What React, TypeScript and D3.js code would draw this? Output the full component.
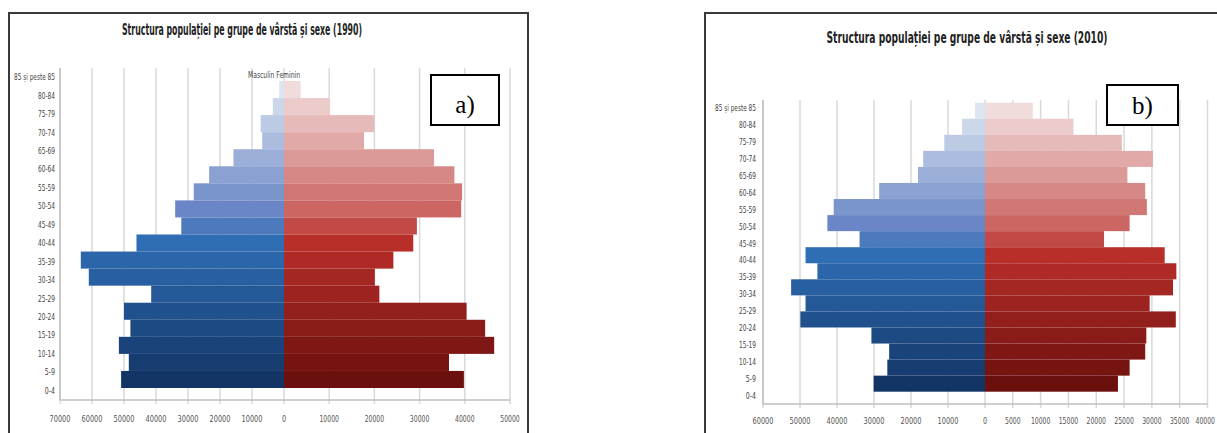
import * as d3 from "d3";

// age groups, top to bottom as in the pyramid
const ageGroups = [
  "85 și peste 85", "80-84", "75-79", "70-74", "65-69", "60-64", "55-59", "50-54", "45-49",
  "40-44", "35-39", "30-34", "25-29", "20-24", "15-19", "10-14", "5-9", "0-4",
];

const male1990 = [1500, 3500, 7300, 6800, 15800, 23400, 28200, 34000, 32100, 46100, 63500, 61000, 41500, 50000, 48000, 51600, 48500, 50900];
const female1990 = [3700, 10200, 20000, 17700, 33200, 37700, 39400, 39200, 29400, 28600, 24200, 20100, 21100, 40400, 44500, 46500, 36500, 39800];

const male2010 = [2700, 6200, 11000, 16700, 18100, 28600, 40900, 42600, 33900, 48500, 45300, 52400, 48500, 49900, 30700, 25900, 26400, 30100];
const female2010 = [8600, 15900, 24600, 30200, 25600, 28800, 29100, 26000, 21400, 32300, 34400, 33800, 29600, 34300, 29000, 28800, 26000, 23900];

const maleTicks1990 = [70000, 60000, 50000, 40000, 30000, 20000, 10000, 0];
const femaleTicks1990 = [10000, 20000, 30000, 40000, 50000];
const maleTicks2010 = [60000, 50000, 40000, 30000, 20000, 10000, 0];
const femaleTicks2010 = [5000, 10000, 15000, 20000, 25000, 30000, 35000, 40000];

const maleColor = d3.scaleLinear<string>().domain([0, 7, 9, 17]).range(["#dde5f0", "#6a86c6", "#2f6db4", "#123566"]);
const femaleColor = d3.scaleLinear<string>().domain([0, 7, 9, 17]).range(["#f1dcdc", "#cb6663", "#b82e29", "#6c100e"]);

const narrow = "'Liberation Sans Narrow', 'DejaVu Sans Condensed', sans-serif";
const W = 1217;

type PanelProps = {
  title: string;
  titleX: number; titleY: number; titleLen: number; titleSize: number;
  frame: [number, number, number, number];
  box: [number, number, number, number];
  boxLabel: string; boxTextY: number;
  male: number[]; female: number[];
  maleTicks: number[]; femaleTicks: number[];
  maleMax: number; femaleMax: number;
  x0: number; xLeft: number; xRight: number;
  gridTop: number; axisY: number; barTop: number; barBottom: number;
  catX: number; tickY: number;
  legend?: boolean;
};

// squeeze texts horizontally, the reference is a narrowed screenshot
const catLen = (s: string) => (s.length > 6 ? 41 : s.length * 3.4);

function Pyramid(p: PanelProps) {
  const xm = d3.scaleLinear([0, p.maleMax], [p.x0, p.xLeft]);
  const xf = d3.scaleLinear([0, p.femaleMax], [p.x0, p.xRight]);
  const yLabel = d3.scaleBand(ageGroups, [p.gridTop, p.axisY]);
  const yBar = d3.scaleBand(ageGroups, [p.barTop, p.barBottom]);
  const grid = [...p.maleTicks.map((t) => xm(t)), ...p.femaleTicks.map((t) => xf(t))];

  return (
    <g>
      <rect x={p.frame[0]} y={p.frame[1]} width={p.frame[2]} height={p.frame[3]} fill="#fff" stroke="#3a3a3a" strokeWidth={2} />
      <text x={p.titleX} y={p.titleY} textAnchor="middle" fontFamily={narrow} fontWeight="bold" fontSize={p.titleSize}
        fill="#222" textLength={p.titleLen} lengthAdjust="spacingAndGlyphs">{p.title}</text>

      {grid.map((gx, i) => (
        <line key={i} x1={gx} x2={gx} y1={p.gridTop} y2={p.axisY + 4} stroke="#d9d9d9" strokeWidth={1.5} />
      ))}
      <line x1={p.xLeft} x2={p.xLeft} y1={p.gridTop} y2={p.axisY} stroke="#bfbfbf" strokeWidth={1.5} />
      <line x1={p.xLeft} x2={p.xRight} y1={p.axisY} y2={p.axisY} stroke="#bfbfbf" strokeWidth={1.5} />

      {ageGroups.map((g, i) => (
        <g key={g}>
          <rect x={xm(p.male[i])} y={yBar(g)} width={p.x0 - xm(p.male[i])} height={yBar.bandwidth()} fill={maleColor(i)} />
          <rect x={p.x0} y={yBar(g)} width={xf(p.female[i]) - p.x0} height={yBar.bandwidth()} fill={femaleColor(i)} />
          <text x={p.catX} y={(yLabel(g) ?? 0) + yLabel.bandwidth() / 2 + 3} textAnchor="end" fontFamily={narrow}
            fontSize={8} fill="#444" textLength={catLen(g)} lengthAdjust="spacingAndGlyphs">{g}</text>
        </g>
      ))}

      {p.maleTicks.map((t) => (
        <text key={"m" + t} x={xm(t)} y={p.tickY} textAnchor="middle" fontFamily={narrow} fontSize={9} fill="#555"
          textLength={String(t).length * 4.2} lengthAdjust="spacingAndGlyphs">{t}</text>
      ))}
      {p.femaleTicks.map((t) => {
        const len = String(t).length * 3.9;
        return (
          <text key={"f" + t} x={Math.min(xf(t), W - 2 - len / 2)} y={p.tickY} textAnchor="middle" fontFamily={narrow}
            fontSize={9} fill="#555" textLength={len} lengthAdjust="spacingAndGlyphs">{t}</text>
        );
      })}

      {p.legend && (
        <text x={p.x0 - 10} y={p.gridTop + 10} textAnchor="middle" fontFamily={narrow} fontSize={8} fill="#444"
          textLength={52} lengthAdjust="spacingAndGlyphs">Masculin Feminin</text>
      )}

      <rect x={p.box[0]} y={p.box[1]} width={p.box[2]} height={p.box[3]} fill="#fff" stroke="#000" strokeWidth={2} />
      <text x={p.box[0] + p.box[2] / 2} y={p.boxTextY} textAnchor="middle" fontFamily="'Liberation Serif', 'DejaVu Serif', serif"
        fontSize={25} fill="#000">{p.boxLabel}</text>
    </g>
  );
}

export default function App() {
  return (
    <div style={{ position: "absolute", left: 0, top: 0, width: W, height: 433, overflow: "hidden", background: "#fff" }}>
      <svg width={W} height={433}>
        <Pyramid
          title="Structura populației pe grupe de vârstă și sexe (1990)"
          titleX={242} titleY={35} titleLen={240} titleSize={16}
          frame={[9, 13, 519, 440]}
          box={[431, 75, 68, 50]} boxLabel="a)" boxTextY={113}
          male={male1990} female={female1990}
          maleTicks={maleTicks1990} femaleTicks={femaleTicks1990}
          maleMax={70000} femaleMax={50000}
          x0={284} xLeft={60} xRight={510}
          gridTop={68} axisY={400} barTop={81} barBottom={388}
          catX={55} tickY={422}
          legend
        />
        <Pyramid
          title="Structura populației pe grupe de vârstă și sexe (2010)"
          titleX={967} titleY={43} titleLen={281} titleSize={15}
          frame={[705, 13, 530, 440]}
          box={[1107, 85, 71, 40]} boxLabel="b)" boxTextY={114}
          male={male2010} female={female2010}
          maleTicks={maleTicks2010} femaleTicks={femaleTicks2010}
          maleMax={60000} femaleMax={40000}
          x0={985} xLeft={763} xRight={1207.5}
          gridTop={100} axisY={404} barTop={102.7} barBottom={391.7}
          catX={756} tickY={424}
        />
      </svg>
    </div>
  );
}
